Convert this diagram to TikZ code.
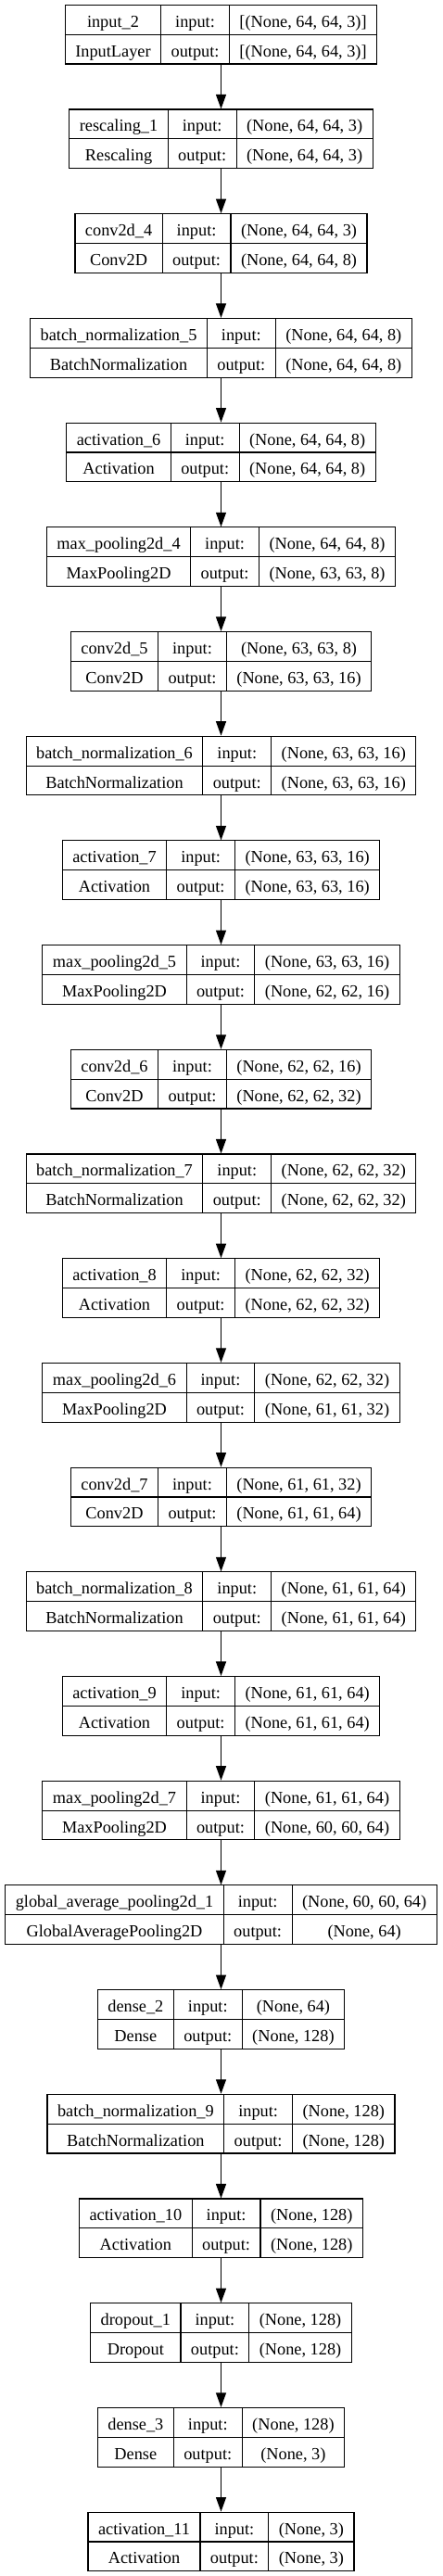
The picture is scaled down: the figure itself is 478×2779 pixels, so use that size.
\documentclass[tikz,border=0pt]{standalone}
\usepackage{fontspec}
\setmainfont{Liberation Serif}
\usetikzlibrary{arrows.meta}
\newcommand\lf{\fontsize{18.3}{22}\selectfont}
\newlength\lyWa \newlength\lyWb \newlength\lyWc \newlength\lyWd \newlength\lyWm
\tikzset{
  lbox/.style={draw=black, line width=1.1pt, inner sep=0pt, minimum height=63.7pt},
  grid/.style={draw=black, line width=1.1pt},
  lbl/.style={inner sep=0pt, anchor=base, font=\lf},
  conn/.style={draw=black, line width=1.1pt, -{Triangle[length=15.5pt,width=11pt]}}
}
\newcommand\mklayer[6]{%
  \pgfinterruptpicture
  \global\setbox1=\hbox{\normalfont\lf #3}\global\lyWa=\wd1
  \global\setbox1=\hbox{\normalfont\lf #4}\global\lyWb=\wd1
  \global\setbox1=\hbox{\normalfont\lf #5}\global\lyWc=\wd1
  \global\setbox1=\hbox{\normalfont\lf #6}\global\lyWd=\wd1
  \global\setbox1=\hbox{\normalfont\lf output:}\global\lyWm=\wd1
  \endpgfinterruptpicture
  \ifdim\lyWb>\lyWa \lyWa=\lyWb\fi
  \ifdim\lyWd>\lyWc \lyWc=\lyWd\fi
  \pgfmathsetmacro\lyA{\lyWa+22}%
  \pgfmathsetmacro\lyM{\lyWm+22}%
  \pgfmathsetmacro\lyC{\lyWc+22}%
  \pgfmathsetmacro\lyW{\lyA+\lyM+\lyC}%
  \pgfmathsetmacro\lyT{-(5.3+112.7*#2)}%
  \pgfmathsetmacro\lyL{238.5-\lyW/2}%
  \node[lbox, minimum width=\lyW pt] (#1) at (238.5,\lyT-31.85) {};
  \draw[grid] (\lyL,\lyT-31.85) -- (\lyL+\lyW,\lyT-31.85);
  \draw[grid] (\lyL+\lyA,\lyT) -- (\lyL+\lyA,\lyT-63.7);
  \draw[grid] (\lyL+\lyA+\lyM,\lyT) -- (\lyL+\lyA+\lyM,\lyT-63.7);
  \node[lbl] (#1n) at (\lyL+\lyA/2,\lyT-23.9) {#3};
  \node[lbl] (#1c) at (\lyL+\lyA/2,\lyT-55.8) {#4};
  \node[lbl] (#1ki) at (\lyL+\lyA+\lyM/2,\lyT-23.9) {input:};
  \node[lbl] (#1ko) at (\lyL+\lyA+\lyM/2,\lyT-55.8) {output:};
  \node[lbl] (#1i) at (\lyL+\lyA+\lyM+\lyC/2,\lyT-23.9) {#5};
  \node[lbl] (#1o) at (\lyL+\lyA+\lyM+\lyC/2,\lyT-55.8) {#6};
}
\begin{document}
\begin{tikzpicture}[x=1pt,y=1pt]
\useasboundingbox (0,0) rectangle (478,-2779);
\mklayer{l0}{0}{input\_2}{InputLayer}{[(None, 64, 64, 3)]}{[(None, 64, 64, 3)]}
\mklayer{l1}{1}{rescaling\_1}{Rescaling}{(None, 64, 64, 3)}{(None, 64, 64, 3)}
\mklayer{l2}{2}{conv2d\_4}{Conv2D}{(None, 64, 64, 3)}{(None, 64, 64, 8)}
\mklayer{l3}{3}{batch\_normalization\_5}{BatchNormalization}{(None, 64, 64, 8)}{(None, 64, 64, 8)}
\mklayer{l4}{4}{activation\_6}{Activation}{(None, 64, 64, 8)}{(None, 64, 64, 8)}
\mklayer{l5}{5}{max\_pooling2d\_4}{MaxPooling2D}{(None, 64, 64, 8)}{(None, 63, 63, 8)}
\mklayer{l6}{6}{conv2d\_5}{Conv2D}{(None, 63, 63, 8)}{(None, 63, 63, 16)}
\mklayer{l7}{7}{batch\_normalization\_6}{BatchNormalization}{(None, 63, 63, 16)}{(None, 63, 63, 16)}
\mklayer{l8}{8}{activation\_7}{Activation}{(None, 63, 63, 16)}{(None, 63, 63, 16)}
\mklayer{l9}{9}{max\_pooling2d\_5}{MaxPooling2D}{(None, 63, 63, 16)}{(None, 62, 62, 16)}
\mklayer{l10}{10}{conv2d\_6}{Conv2D}{(None, 62, 62, 16)}{(None, 62, 62, 32)}
\mklayer{l11}{11}{batch\_normalization\_7}{BatchNormalization}{(None, 62, 62, 32)}{(None, 62, 62, 32)}
\mklayer{l12}{12}{activation\_8}{Activation}{(None, 62, 62, 32)}{(None, 62, 62, 32)}
\mklayer{l13}{13}{max\_pooling2d\_6}{MaxPooling2D}{(None, 62, 62, 32)}{(None, 61, 61, 32)}
\mklayer{l14}{14}{conv2d\_7}{Conv2D}{(None, 61, 61, 32)}{(None, 61, 61, 64)}
\mklayer{l15}{15}{batch\_normalization\_8}{BatchNormalization}{(None, 61, 61, 64)}{(None, 61, 61, 64)}
\mklayer{l16}{16}{activation\_9}{Activation}{(None, 61, 61, 64)}{(None, 61, 61, 64)}
\mklayer{l17}{17}{max\_pooling2d\_7}{MaxPooling2D}{(None, 61, 61, 64)}{(None, 60, 60, 64)}
\mklayer{l18}{18}{global\_average\_pooling2d\_1}{GlobalAveragePooling2D}{(None, 60, 60, 64)}{(None, 64)}
\mklayer{l19}{19}{dense\_2}{Dense}{(None, 64)}{(None, 128)}
\mklayer{l20}{20}{batch\_normalization\_9}{BatchNormalization}{(None, 128)}{(None, 128)}
\mklayer{l21}{21}{activation\_10}{Activation}{(None, 128)}{(None, 128)}
\mklayer{l22}{22}{dropout\_1}{Dropout}{(None, 128)}{(None, 128)}
\mklayer{l23}{23}{dense\_3}{Dense}{(None, 128)}{(None, 3)}
\mklayer{l24}{24}{activation\_11}{Activation}{(None, 3)}{(None, 3)}
\foreach \i [evaluate=\i as \j using int(\i+1)] in {0,...,23}
  \draw[conn] (l\i.south) -- (l\j.north);
\end{tikzpicture}
\end{document}
